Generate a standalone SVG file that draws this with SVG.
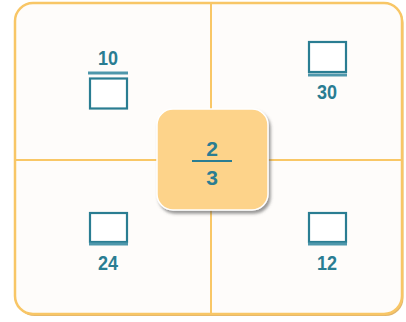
<svg xmlns="http://www.w3.org/2000/svg" width="406" height="322" viewBox="0 0 406 322">
  <defs>
    <filter id="sh" x="-20%" y="-20%" width="150%" height="150%">
      <feDropShadow dx="2" dy="3" stdDeviation="1.5" flood-color="#555" flood-opacity="0.6"/>
    </filter>
    <style>
      .num { font-family: "Liberation Sans", Arial, sans-serif; font-weight: bold; font-size: 21px; fill: #2A7D92; text-anchor: middle; }
      .bar { stroke: #4E97AB; stroke-width: 3; }
      .box { fill: #FFFFFF; stroke: #2A7D92; stroke-width: 2.2; }
      .grid { stroke: #F9C766; stroke-width: 2; fill: none; }
    </style>
  </defs>
  <rect width="406" height="322" fill="#FFFFFF"/>
  <g id="frame">
    <rect x="16.5" y="5" width="387" height="311" rx="18" fill="#D9A24A" opacity="0.8"/>
    <rect x="15" y="3" width="387" height="311" rx="18" fill="#FEFCFA" stroke="#F8C666" stroke-width="2.5"/>
  </g>
  <g id="connectors">
    <line class="grid" x1="211" y1="4" x2="211" y2="313"/>
    <line class="grid" x1="16" y1="160" x2="401" y2="160"/>
  </g>
  <g id="q-top-left">
    <text class="num" x="108" y="65" textLength="20" lengthAdjust="spacingAndGlyphs">10</text>
    <line class="bar" x1="88" y1="73" x2="128" y2="73"/>
    <rect class="box" x="90" y="78.5" width="37" height="30"/>
  </g>
  <g id="q-top-right">
    <rect class="box" x="309" y="42" width="37" height="30"/>
    <line class="bar" x1="308" y1="75" x2="347" y2="75"/>
    <text class="num" x="327" y="99" textLength="20" lengthAdjust="spacingAndGlyphs">30</text>
  </g>
  <g id="q-bottom-left">
    <rect class="box" x="90" y="213" width="37" height="29"/>
    <line class="bar" x1="89" y1="244" x2="128" y2="244"/>
    <text class="num" x="108" y="270" textLength="20" lengthAdjust="spacingAndGlyphs">24</text>
  </g>
  <g id="q-bottom-right">
    <rect class="box" x="309" y="213" width="37" height="29"/>
    <line class="bar" x1="308" y1="244" x2="347" y2="244"/>
    <text class="num" x="327" y="270" textLength="20" lengthAdjust="spacingAndGlyphs">12</text>
  </g>
  <g id="center">
    <rect x="157" y="109" width="111" height="101" rx="16" fill="#FDD38A" stroke="#FFFFFF" stroke-width="1.5" filter="url(#sh)"/>
    <text class="num" x="212" y="156">2</text>
    <line x1="192" y1="161" x2="232" y2="161" stroke="#2A7D92" stroke-width="2"/>
    <text class="num" x="212" y="185">3</text>
  </g>
</svg>
